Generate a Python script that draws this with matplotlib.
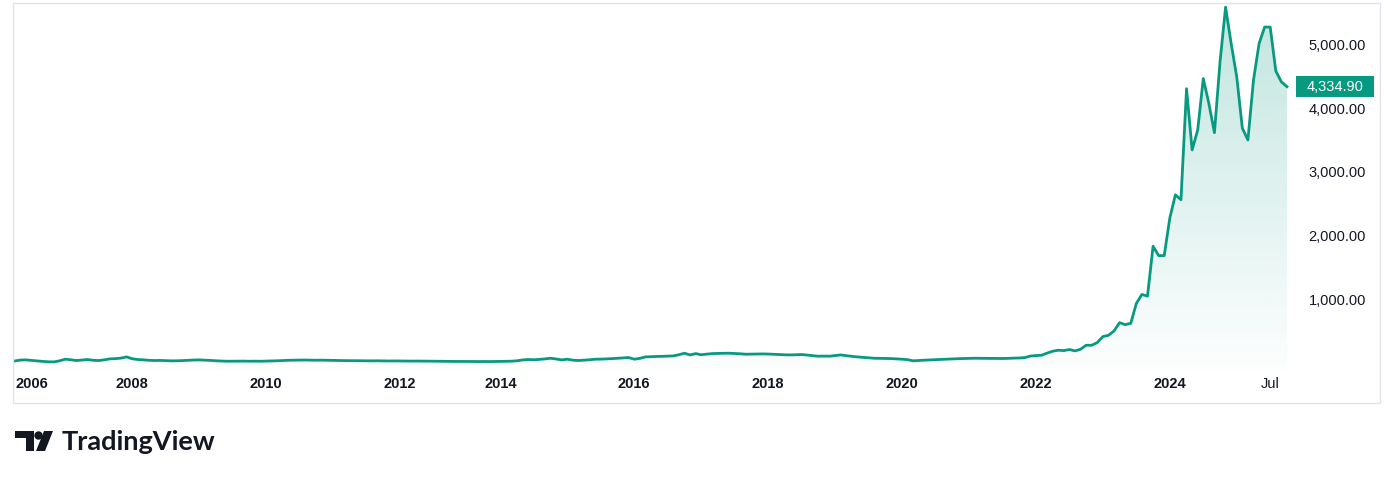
import numpy as np
import matplotlib.pyplot as plt
from matplotlib.patches import Rectangle, Circle, Polygon
from matplotlib.transforms import IdentityTransform
from matplotlib.colors import to_rgb

# monthly closes, Apr 2006 .. Oct 2025 (feed skips six months in 2013)
c2006 = [28, 42, 44, 36, 28, 20, 14, 13, 30]
c2007 = [55, 46, 34, 42, 50, 38, 34, 45, 60, 64, 72, 91]
c2008 = [62, 50, 45, 38, 34, 36, 32, 29, 30, 33, 38, 42]
c2009 = [44, 40, 36, 30, 26, 23, 24, 26, 25, 23, 24, 23]
c2010 = [25, 28, 30, 34, 38, 40, 41, 42, 40, 39, 40, 38]
c2011 = [36, 34, 33, 32, 30, 31, 30, 29, 30, 28, 27, 28]
c2012 = [27, 26, 25, 26, 25, 24, 23, 22, 22, 21, 20, 20]
c2013 = [19, 19, 18, 19, 18, 19]
c2014 = [20, 22, 24, 30, 44, 50, 46, 52, 60, 70, 58, 44]
c2015 = [55, 40, 34, 40, 46, 55, 56, 60, 64, 70, 75, 81]
c2016 = [55, 68, 91, 95, 98, 100, 104, 107, 125, 149, 122, 143]
c2017 = [125, 135, 143, 146, 148, 149, 145, 140, 133, 135, 137, 138]
c2018 = [136, 132, 128, 124, 122, 125, 128, 120, 110, 102, 104, 102]
c2019 = [112, 122, 110, 100, 91, 84, 76, 70, 68, 66, 65, 60]
c2020 = [55, 48, 29, 35, 40, 44, 48, 52, 56, 60, 63, 66]
c2021 = [68, 70, 69, 67, 66, 65, 66, 68, 72, 74, 80, 104]
c2022 = [112, 117, 150, 180, 196, 190, 207, 185, 211, 274, 274, 316]
c2023 = [410, 430, 498, 629, 598, 618, 931, 1072, 1045, 1828, 1682, 1682]
c2024 = [2272, 2637, 2559, 4303, 3341, 3654, 4463, 4072, 3612, 4723, 5584, 5011]
c2025 = [4488, 3684, 3498, 4437, 5011, 5271, 5271, 4582, 4410, 4334.90]

closes = (c2006 + c2007 + c2008 + c2009 + c2010 + c2011 + c2012 + c2013 +
          c2014 + c2015 + c2016 + c2017 + c2018 + c2019 + c2020 + c2021 +
          c2022 + c2023 + c2024 + c2025)
bars = np.arange(len(closes))

time_labels = ["2006", "2008", "2010", "2012", "2014", "2016",
               "2018", "2020", "2022", "2024", "Jul"]
time_bars = [3, 21, 45, 69, 87, 111, 135, 159, 183, 207, 225]
price_ticks = [1000, 2000, 3000, 4000, 5000]

green = "#089981"
ink = "#131722"
W, H = 1394, 478
font = ["Liberation Sans", "DejaVu Sans"]

fig = plt.figure(figsize=(W / 100, H / 100), dpi=100)
ax = fig.add_axes([13 / W, 1 - 372 / H, (1297 - 13) / W, (372 - 3) / H])

# area with vertical gradient
ax.plot(bars, closes, color=green, lw=2.0, solid_joinstyle="round", zorder=3)
poly = ax.fill_between(bars, closes, -146, color="none", lw=0)
grad = np.zeros((256, 1, 4))
grad[..., :3] = to_rgb(green)
grad[..., 3] = np.linspace(0.25, 0.01, 256)[:, None]
im = ax.imshow(grad, aspect="auto", origin="upper",
               extent=[0, len(closes) - 1, -146, max(closes)], zorder=1)
im.set_clip_path(poly.get_paths()[0], transform=ax.transData)
ax.set_xlim(-0.36, len(closes) - 1 + 1.8)
ax.set_ylim(-146, 5649)

for s in ax.spines.values():
    s.set_visible(False)

ax.set_xticks(time_bars)
ax.set_xticklabels(time_labels, family=font, fontsize=10.5, color=ink)
for lbl in ax.get_xticklabels():
    if lbl.get_text() != "Jul":
        lbl.set_fontweight("bold")
ax.tick_params(axis="x", length=0, pad=3.6)

ax.yaxis.tick_right()
ax.set_yticks(price_ticks)
ax.set_yticklabels([f"{v:,.2f}" for v in price_ticks], family=font,
                   fontsize=10.5, color=ink)
for lbl in ax.get_yticklabels():
    lbl.set_horizontalalignment("right")
ax.tick_params(axis="y", length=0, pad=49.7)

# last price label
last = closes[-1]
_, ypix = ax.transData.transform((0, last))
fig.patches.append(Rectangle((1296, ypix - 10.5), 78, 21, transform=IdentityTransform(),
                             facecolor=green, edgecolor="none", zorder=5))
fig.text(1335 / W, ypix / H, f"{last:,.2f}", family=font, fontsize=10.5,
         color="white", ha="center", va="center", zorder=6)

# pane border
fig.patches.append(Rectangle((12.5 / W, 1 - 402.5 / H), (1380 - 12.5) / W, (402.5 - 3) / H,
                             transform=fig.transFigure, fill=False,
                             edgecolor="#e0e3eb", lw=1))

# TradingView mark
lg = fig.add_axes([15 / W, 1 - 451 / H, 38 / W, 20 / H])
lg.set_xlim(0, 38)
lg.set_ylim(0, 20)
lg.axis("off")
lg.add_patch(Rectangle((0, 13), 19, 7, color=ink, lw=0))
lg.add_patch(Rectangle((11, 0), 8, 20, color=ink, lw=0))
lg.add_patch(Circle((23.5, 15.5), 4.2, color=ink, lw=0))
lg.add_patch(Polygon([(29, 20), (38, 20), (30, 0), (21, 0)], color=ink, lw=0))
fig.text(62 / W, 1 - 450 / H, "TradingView", family=["Lato", "DejaVu Sans"],
         fontsize=19.5, fontweight="bold", color=ink, va="baseline")

fig.savefig("out.png", dpi=100, facecolor="white")
